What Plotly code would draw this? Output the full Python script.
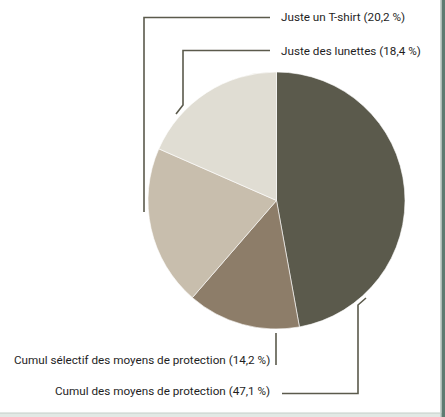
import plotly.graph_objects as go

labels = ["Cumul des moyens de protection", "Cumul sélectif des moyens de protection",
          "Juste un T-shirt", "Juste des lunettes"]
values = [47.1, 14.2, 20.2, 18.4]
value_text = ["47,1", "14,2", "20,2", "18,4"]
colors = ["#5b5a4c", "#8d7d69", "#c8bead", "#e0ddd3"]

W, H = 445, 417
def px(x): return x / W
def py(y): return 1 - y / H

cx, cy, r = 276.5, 200.5, 128.5

fig = go.Figure(go.Pie(
    labels=labels, values=values, sort=False, direction="clockwise", rotation=0,
    marker=dict(colors=colors, line=dict(color="#ffffff", width=0.6)),
    textinfo="none", showlegend=False, hoverinfo="label+percent",
    domain=dict(x=[px(cx - r), px(cx + r)], y=[py(cy + r), py(cy - r)]),
))

line_col = "#5b5a4c"
font = dict(family="Roboto, Liberation Sans, sans-serif", size=11.7, color="#1e1e1e")

def seg(points):
    path = "M " + " L ".join(f"{px(x):.5f},{py(y):.5f}" for x, y in points)
    return dict(type="path", xref="paper", yref="paper", path=path,
                line=dict(color=line_col, width=1.6))

shapes = [
    seg([(270, 17.5), (144, 17.5), (144, 212)]),
    seg([(270, 50.5), (183, 50.5), (183, 105), (176, 114)]),
    seg([(276, 333), (276, 365)]),
    seg([(282, 393.5), (358, 393.5), (358, 305), (366, 298)]),
    # frame
    dict(type="rect", xref="paper", yref="paper", x0=px(0), x1=px(445), y0=py(417), y1=py(413),
         fillcolor="#e2e9e5", line=dict(width=0)),
    dict(type="line", xref="paper", yref="paper", x0=px(0), x1=px(441), y0=py(413), y1=py(413),
         line=dict(color="#c3cec8", width=1)),
    dict(type="line", xref="paper", yref="paper", x0=px(440.5), x1=px(440.5), y0=py(0), y1=py(417),
         line=dict(color="#c8d3cd", width=1)),
    dict(type="rect", xref="paper", yref="paper", x0=px(441.5), x1=px(445), y0=py(417), y1=py(0),
         fillcolor="#5f7b71", line=dict(width=0)),
]

annotations = [
    dict(text=f"{labels[2]} ({value_text[2]} %)", x=px(279), y=py(17.5), xanchor="left", yanchor="middle"),
    dict(text=f"{labels[3]} ({value_text[3]} %)", x=px(279), y=py(50.5), xanchor="left", yanchor="middle"),
    dict(text=f"{labels[1]} ({value_text[1]} %)", x=px(272), y=py(360), xanchor="right", yanchor="middle"),
    dict(text=f"{labels[0]} ({value_text[0]} %)", x=px(272), y=py(391), xanchor="right", yanchor="middle"),
]
for a in annotations:
    a.update(xref="paper", yref="paper", showarrow=False, font=font)

fig.update_layout(
    width=W, height=H, margin=dict(l=0, r=0, t=0, b=0),
    paper_bgcolor="#ffffff", plot_bgcolor="#ffffff",
    shapes=shapes, annotations=annotations,
)

fig.write_html("out.html", config={"displayModeBar": False},
               post_script="document.body.style.margin='0';document.body.style.overflow='hidden';")
